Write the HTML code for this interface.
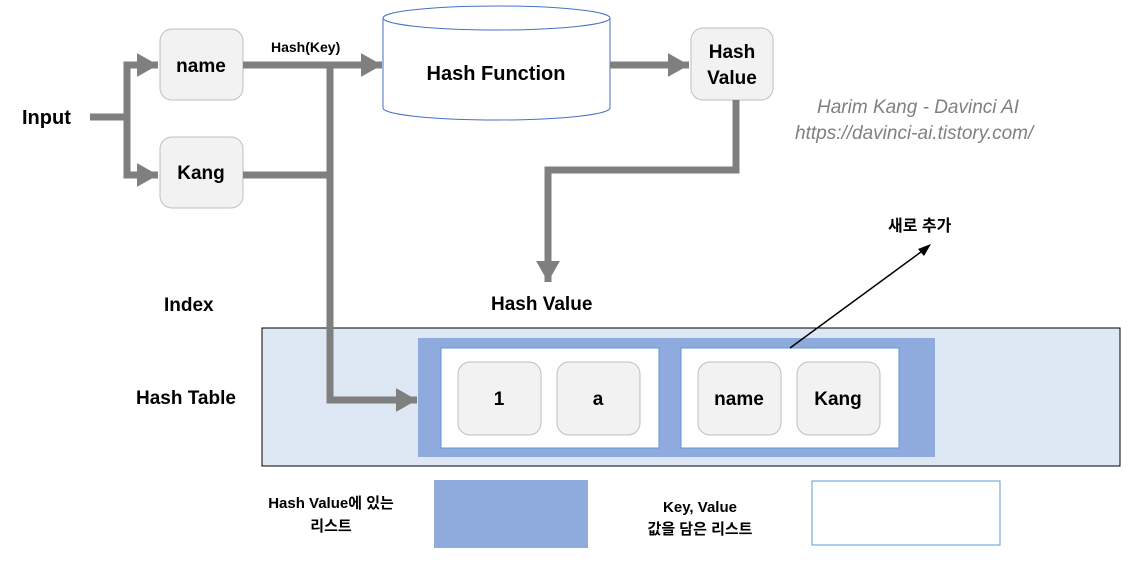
<!DOCTYPE html>
<html><head><meta charset="utf-8"><style>
html,body{margin:0;padding:0;background:#fff;}
svg text{font-family:"Liberation Sans","Noto Sans CJK KR",sans-serif;font-weight:bold;fill:#000;}
</style></head><body>
<svg width="1138" height="563" viewBox="0 0 1138 563" xmlns="http://www.w3.org/2000/svg">
<defs>
<marker id="ah" markerWidth="4" markerHeight="4" refX="3" refY="2" orient="auto" markerUnits="strokeWidth"><path d="M0,0.3 L3,2 L0,3.7z" fill="#7f7f7f"/></marker>
</defs>
<rect x="262" y="328" width="858" height="138" fill="#dee8f4" stroke="#000" stroke-width="1"/>
<rect x="418" y="338" width="517" height="119" fill="#8faadc"/>
<rect x="441" y="348" width="218" height="100" fill="#fff" stroke="#5b9bd5"/>
<rect x="681" y="348" width="218" height="100" fill="#fff" stroke="#5b9bd5"/>
<g fill="#f2f2f2" stroke="#bfbfbf" stroke-width="1">
<rect x="458" y="362" width="83" height="73" rx="12"/>
<rect x="557" y="362" width="83" height="73" rx="12"/>
<rect x="698" y="362" width="83" height="73" rx="12"/>
<rect x="797" y="362" width="83" height="73" rx="12"/>
<rect x="160" y="29" width="83" height="71" rx="12"/>
<rect x="160" y="137" width="83" height="71" rx="12"/>
<rect x="691" y="28" width="82" height="72" rx="12"/>
</g>
<g font-size="19" text-anchor="middle">
<text x="499" y="405">1</text><text x="598" y="405">a</text>
<text x="739" y="405">name</text><text x="838" y="405">Kang</text>
<text x="201" y="72">name</text><text x="201" y="179">Kang</text>
<text x="732" y="58">Hash</text><text x="732" y="84">Value</text>
</g>
<path d="M383,18 L383,108 A113.5,12 0 0 0 610,108 L610,18" fill="#fff" stroke="#4472c4"/>
<ellipse cx="496.5" cy="18" rx="113.5" ry="12" fill="#fff" stroke="#4472c4"/>
<text x="496" y="80" font-size="20" text-anchor="middle">Hash Function</text>
<g stroke="#7f7f7f" stroke-width="7" fill="none">
<path d="M90,117 L127,117"/>
<path d="M127,172 L127,65 L158,65" marker-end="url(#ah)"/>
<path d="M127,117 L127,175 L158,175" marker-end="url(#ah)"/>
<path d="M243,65 L382,65" marker-end="url(#ah)"/>
<path d="M243,175 L330,175"/>
<path d="M330,65 L330,400 L417,400" marker-end="url(#ah)"/>
<path d="M610,65 L689,65" marker-end="url(#ah)"/>
<path d="M736,100 L736,170 L548,170 L548,282" marker-end="url(#ah)"/>
</g>
<line x1="790" y1="348" x2="925" y2="249" stroke="#000" stroke-width="1.5"/>
<path d="M931,244 L918,249 L924,256z" fill="#000"/>
<text x="22" y="124" font-size="20">Input</text>
<text x="271" y="52" font-size="14">Hash(Key)</text>
<text x="888" y="231" font-size="16">새로 추가</text>
<text x="164" y="311" font-size="19">Index</text>
<text x="491" y="310" font-size="19">Hash Value</text>
<text x="136" y="404" font-size="19">Hash Table</text>
<g font-style="italic" font-size="19">
<text x="817" y="113" style="font-weight:normal;fill:#808080">Harim Kang - Davinci AI</text>
<text x="795" y="139" style="font-weight:normal;fill:#808080">https://davinci-ai.tistory.com/</text>
</g>
<rect x="434" y="480" width="154" height="68" fill="#8faadc"/>
<rect x="812" y="481" width="188" height="64" fill="#fff" stroke="#5b9bd5"/>
<g font-size="15" text-anchor="middle">
<text x="331" y="508">Hash Value에 있는</text><text x="331" y="531">리스트</text>
<text x="700" y="512">Key, Value</text><text x="700" y="534">값을 담은 리스트</text>
</g>
</svg>
</body></html>
